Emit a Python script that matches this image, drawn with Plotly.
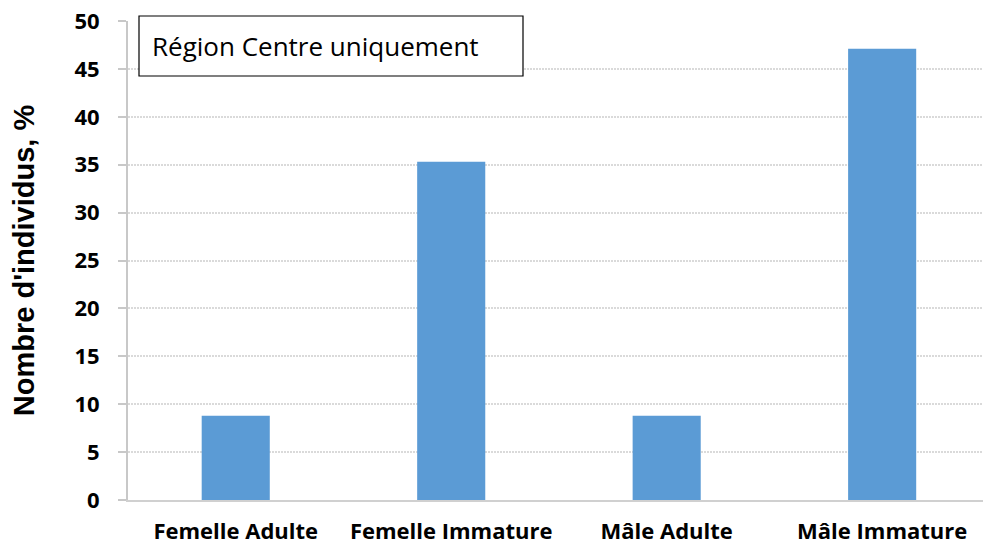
import plotly.graph_objects as go

categories = ["Femelle Adulte", "Femelle Immature", "Mâle Adulte", "Mâle Immature"]
values = [8.8, 35.3, 8.8, 47.1]
y_ticks = [0, 5, 10, 15, 20, 25, 30, 35, 40, 45, 50]

W, H = 983, 544
L, R, T, B = 128, 0, 21, 44
PW, PH = W - L - R, H - T - B

LABEL_FONT = "'Open Sans', Lato, sans-serif"

fig = go.Figure(
    go.Bar(x=categories, y=values, marker=dict(color="#5B9BD5", line=dict(width=0)),
           hoverinfo="x+y")
)

fig.update_layout(
    width=W, height=H,
    margin=dict(l=L, r=R, t=T, b=B),
    paper_bgcolor="white", plot_bgcolor="white",
    bargap=0.684,
    showlegend=False,
    font=dict(family=LABEL_FONT, color="black"),
)

fig.update_xaxes(
    type="category",
    range=[-0.5, 3.468],
    automargin=False,
    showgrid=False,
    showline=True, linecolor="#D0D0D0", linewidth=2,
    ticks="", ticklen=0,
    tickfont=dict(size=22, family=LABEL_FONT, weight="bold"),
    ticklabelstandoff=11,
)

fig.update_yaxes(
    range=[0, 50],
    tickvals=y_ticks,
    automargin=False,
    showgrid=True, gridcolor="#DADADA", griddash="2px,1px", gridwidth=1.5,
    showline=True, linecolor="#C8C8C8", linewidth=2,
    ticks="outside", ticklen=8, tickcolor="#C8C8C8", tickwidth=2,
    tickfont=dict(size=22, family=LABEL_FONT, weight="bold"),
    ticklabelstandoff=14,
    zeroline=False,
    title=dict(text="Nombre d'individus, %",
               font=dict(size=29, family="'Liberation Sans', Arial, sans-serif", weight="bold"),
               standoff=31),
)

# Boxed caption in the upper-left of the plot area
fig.add_shape(
    type="rect", xref="paper", yref="paper",
    x0=(139 - L) / PW, x1=(523 - L) / PW,
    y0=1 - (76 - T) / PH, y1=1 + (T - 16) / PH,
    line=dict(color="black", width=1.2), fillcolor="white", layer="above",
)
fig.add_annotation(
    xref="paper", yref="paper",
    x=(150 - L) / PW, y=1 - (46 - T) / PH,
    xanchor="left", yanchor="middle",
    text="Région Centre uniquement",
    showarrow=False,
    font=dict(size=26, family=LABEL_FONT, color="black"),
)

fig.write_html("out.html")
